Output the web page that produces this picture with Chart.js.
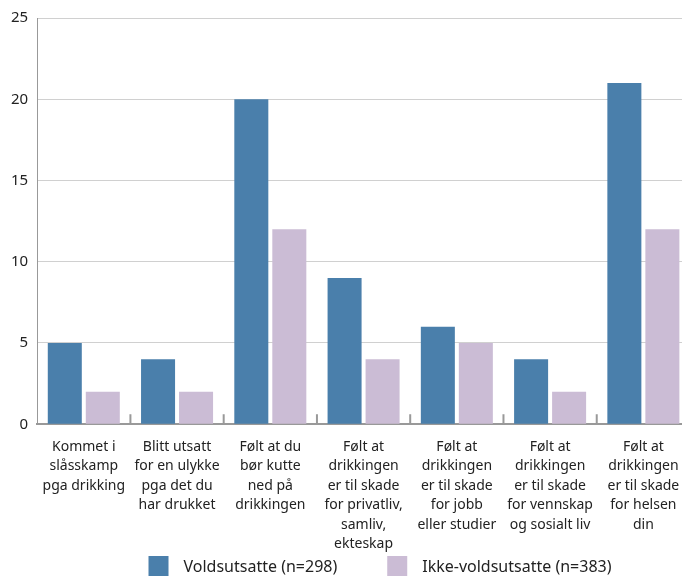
<!DOCTYPE html>
<html>
<head>
<meta charset="utf-8">
<script src="https://cdn.jsdelivr.net/npm/chart.js@4/dist/chart.umd.min.js"></script>
<style>
	html, body { margin: 0; padding: 0; background: #fff; overflow: hidden; }
	#wrap { width: 768px; height: 578px; }
</style>
</head>
<body>
<div id="wrap"><canvas id="chart"></canvas></div>
<script>
	// kategorier (flere linjer per etikett)
	var kategorier = [
		["Kommet i", "slåsskamp", "pga drikking"],
		["Blitt utsatt", "for en ulykke", "pga det du", "har drukket"],
		["Følt at du", "bør kutte", "ned på", "drikkingen"],
		["Følt at", "drikkingen", "er til skade", "for privatliv,", "samliv,", "ekteskap"],
		["Følt at", "drikkingen", "er til skade", "for jobb", "eller studier"],
		["Følt at", "drikkingen", "er til skade", "for vennskap", "og sosialt liv"],
		["Følt at", "drikkingen", "er til skade", "for helsen", "din"]
	];
	var voldsutsatte = [5, 4, 20, 9, 6, 4, 21];
	var ikkeVoldsutsatte = [2, 2, 12, 4, 5, 2, 12];
	var yTicks = [0, 5, 10, 15, 20, 25];

	var skrift = "'Noto Sans', sans-serif";

	// små streker mellom kategoriene, opp fra x-aksen
	var skilleStreker = {
		id: "skilleStreker",
		afterDatasetsDraw: function(chart)
		{
			var x = chart.scales.x;
			var ctx = chart.ctx;
			var bunn = chart.scales.y.getPixelForValue(0);
			ctx.save();
			ctx.strokeStyle = "#999";
			ctx.lineWidth = 2;
			for (var i = 1; i < kategorier.length; i++)
			{
				var px = (x.getPixelForTick(i - 1) + x.getPixelForTick(i)) / 2;
				ctx.beginPath();
				ctx.moveTo(px, bunn);
				ctx.lineTo(px, bunn - 10);
				ctx.stroke();
			}
			ctx.restore();
		}
	};

	// egen tegnforklaring nederst, sentrert på hele lerretet
	var tegnforklaring = {
		id: "tegnforklaring",
		afterDraw: function(chart)
		{
			var ctx = chart.ctx;
			var sett = chart.data.datasets;
			var boks = 20, tekstGap = 15, mellomrom = 50;
			ctx.save();
			ctx.font = "16px " + skrift;
			ctx.textBaseline = "middle";
			var bredder = sett.map(function(d) { return ctx.measureText(d.label).width; });
			var total = 0;
			bredder.forEach(function(b, i) { total += boks + tekstGap + b + (i > 0 ? mellomrom : 0); });
			var x = chart.width / 2 - total / 2 - 4;
			var y = chart.height - 12;
			sett.forEach(function(d, i)
			{
				ctx.fillStyle = d.backgroundColor;
				ctx.fillRect(x, y - boks / 2, boks, boks);
				ctx.fillStyle = "#222";
				ctx.fillText(d.label, x + boks + tekstGap, y + 1);
				x += boks + tekstGap + bredder[i] + mellomrom;
			});
			ctx.restore();
		}
	};

	new Chart("chart", {
		type: "bar",
		data: {
			labels: kategorier,
			datasets: [{
				label: "Voldsutsatte (n=298)",
				backgroundColor: "#4a7fab",
				data: voldsutsatte
			}, {
				label: "Ikke-voldsutsatte (n=383)",
				backgroundColor: "#cbbcd5",
				data: ikkeVoldsutsatte
			}]
		},
		options: {
			responsive: true,
			maintainAspectRatio: false,
			animation: false,
			categoryPercentage: 0.815,
			barPercentage: 0.895,
			layout: { padding: { top: 6, right: 78, left: 2, bottom: 11 } },
			plugins: {
				tooltip: { enabled: false },
				legend: { display: false }
			},
			scales: {
				x: {
					grid: { display: false, drawTicks: false },
					border: { color: "#999", width: 2 },
					ticks: {
						color: "#222",
						maxRotation: 0,
						autoSkip: false,
						padding: 13,
						font: { family: skrift, size: 14, lineHeight: 1.39 }
					}
				},
				y: {
					min: 0,
					max: 25,
					afterBuildTicks: function(scale)
					{
						scale.ticks = yTicks.map(function(v) { return { value: v }; });
					},
					grid: { color: "#d0d0d0", lineWidth: 1, drawTicks: false },
					border: { color: "#999", width: 1 },
					ticks: {
						color: "#222",
						padding: 9,
						font: { family: skrift, size: 15 }
					}
				}
			}
		},
		plugins: [skilleStreker, tegnforklaring]
	});
</script>
</body>
</html>
